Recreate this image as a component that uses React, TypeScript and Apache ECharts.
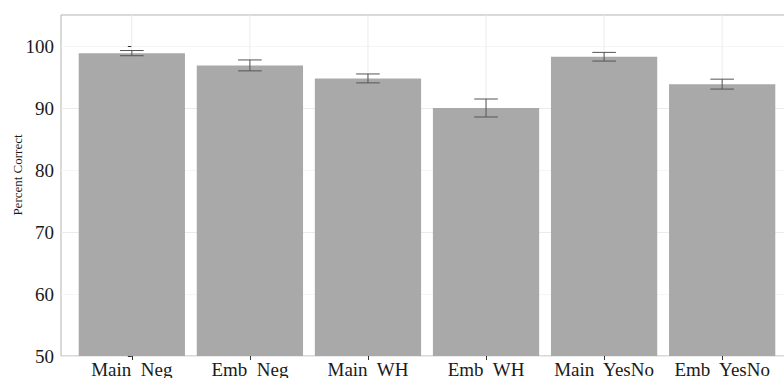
import React, { useEffect, useRef } from "react";
import * as echarts from "echarts";

const categories = ["Main  Neg", "Emb  Neg", "Main  WH", "Emb  WH", "Main  YesNo", "Emb  YesNo"];
const means = [98.85, 96.87, 94.77, 90.0, 98.27, 93.85];
const errors = [0.42, 0.88, 0.72, 1.45, 0.7, 0.8];
const yTicks = [50, 60, 70, 80, 90, 100];
const yTitle = "Percent Correct";

const FONT = "'Liberation Serif', 'Times New Roman', serif";

export default function App() {
  const ref = useRef<HTMLDivElement>(null);
  useEffect(() => {
    if (!ref.current) return;
    const chart = echarts.init(ref.current, null, { renderer: "svg" });
    const idx = categories.map((_, i) => i);
    const barData = means.map((m, i) => [i, m]);
    const errData = means.map((m, i) => [i, m - errors[i], m + errors[i]]);
    const vgrid = idx.map((i) => [i]);
    chart.setOption({
      animation: false,
      backgroundColor: "#ffffff",
      grid: {
        left: 61,
        top: 15,
        right: -9,
        bottom: 22,
        outerBoundsMode: "none",
        containLabel: false,
        show: true,
        borderColor: "#b3b3b3",
        borderWidth: 1,
        backgroundColor: "#ffffff",
      },
      graphic: [
        {
          type: "text",
          x: 24,
          y: 175,
          rotation: Math.PI / 2,
          style: {
            text: yTitle,
            fontFamily: FONT,
            fontSize: 13,
            fill: "#1a1a1a",
            align: "center",
            verticalAlign: "bottom",
          },
        },
      ],
      xAxis: {
        type: "value",
        min: -0.6,
        max: 5.6,
        axisLine: { show: false },
        splitLine: { show: false },
        axisTick: {
          show: true,
          customValues: idx,
          length: 4,
          lineStyle: { color: "#333333", width: 1 },
        },
        axisLabel: {
          customValues: idx,
          formatter: (v: number) => categories[Math.round(v)] ?? "",
          fontFamily: FONT,
          fontSize: 19,
          color: "#1a1a1a",
          margin: 4,
        },
      },
      yAxis: {
        type: "value",
        min: 50,
        max: 105,
        interval: 5,
        axisLine: { show: false },
        axisTick: {
          show: true,
          customValues: yTicks,
          length: 4,
          lineStyle: { color: "#333333", width: 1 },
        },
        axisLabel: {
          customValues: yTicks,
          fontFamily: FONT,
          fontSize: 19,
          color: "#1a1a1a",
          margin: 7,
        },
        splitLine: {
          show: true,
          lineStyle: { color: ["#ebebeb", "#f5f5f5"], width: 1 },
        },
      },
      series: [
        {
          type: "custom",
          z: 1,
          silent: true,
          data: vgrid,
          renderItem: (params: any, api: any) => {
            const top = api.coord([api.value(0), 105]);
            const bot = api.coord([api.value(0), 50]);
            return {
              type: "line",
              shape: { x1: top[0], y1: top[1], x2: bot[0], y2: bot[1] },
              style: { stroke: "#ebebeb", lineWidth: 1 },
            };
          },
        },
        {
          type: "bar",
          z: 2,
          data: barData,
          barWidth: "90%",
          itemStyle: { color: "#a9a9a9" },
        },
        {
          type: "custom",
          z: 3,
          data: errData,
          renderItem: (params: any, api: any) => {
            const x = api.value(0);
            const lo = api.coord([x, api.value(1)]);
            const hi = api.coord([x, api.value(2)]);
            const half = api.size([0.2, 0])[0] / 2;
            const style = { stroke: "#555555", lineWidth: 1 };
            return {
              type: "group",
              children: [
                { type: "line", shape: { x1: lo[0], y1: lo[1], x2: hi[0], y2: hi[1] }, style },
                { type: "line", shape: { x1: hi[0] - half, y1: hi[1], x2: hi[0] + half, y2: hi[1] }, style },
                { type: "line", shape: { x1: lo[0] - half, y1: lo[1], x2: lo[0] + half, y2: lo[1] }, style },
              ],
            };
          },
        },
      ],
    });
    return () => chart.dispose();
  }, []);
  return (
    <div
      ref={ref}
      style={{ position: "absolute", left: 0, top: 0, width: 784, height: 378 }}
    />
  );
}
